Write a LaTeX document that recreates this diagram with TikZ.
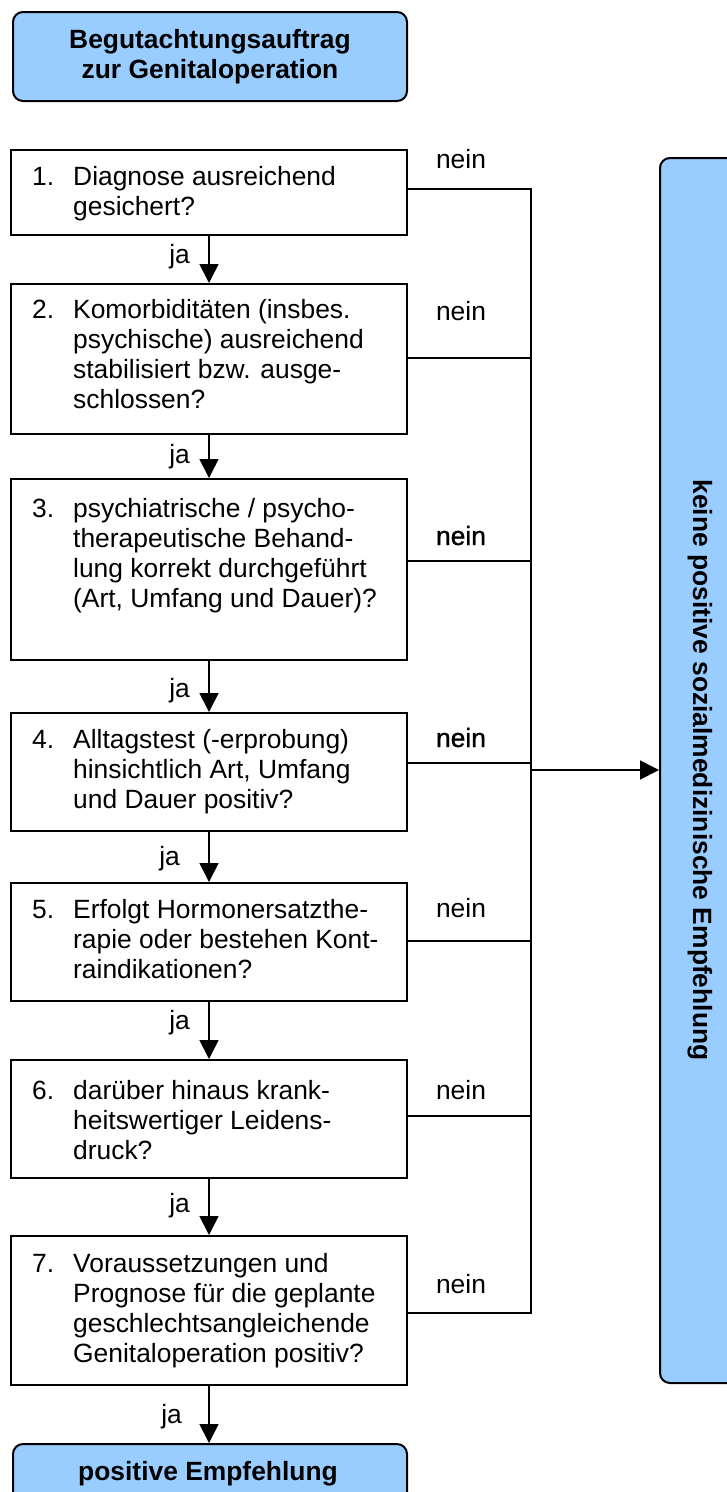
\documentclass[tikz,border=0pt]{standalone}
\usepackage{fontspec}
\setmainfont{Liberation Sans}
\newfontfamily\neinheavy[FakeBold=1]{Liberation Sans}
\usetikzlibrary{arrows.meta}
\definecolor{boxblue}{HTML}{99CCFF}
\newcommand\qitem[2]{\begin{tabular}[t]{@{}p{41pt}@{}l@{}}#1 & #2\end{tabular}}
\tikzset{
  qbox/.style={draw, line width=2pt, minimum width=396pt, inner sep=0pt, anchor=north west},
  bluebox/.style={draw, fill=boxblue, line width=2pt, rounded corners=10pt, inner sep=0pt, anchor=north west},
  conn/.style={line width=1.7pt},
  arr/.style={line width=1.7pt, -{Triangle[width=19pt,length=19pt]}},
  qtext/.style={anchor=base west, inner sep=0pt},
  neinlbl/.style={anchor=base, inner sep=0pt},
  jalbl/.style={anchor=base east, inner sep=0pt},
}
\begin{document}
\begin{tikzpicture}[x=1pt,y=-1pt,font=\fontsize{26.4}{30.2}\selectfont]
\useasboundingbox[fill=white] (0,0) rectangle (726,1492);

% blue boxes
\node[bluebox, minimum width=394pt, minimum height=89pt, align=center, font=\fontsize{26.4}{30.2}\selectfont\bfseries] (top) at (12,11) {Begutachtungsauftrag\\zur Genitaloperation};
\node[bluebox, minimum width=394pt, minimum height=90pt] (pos) at (12,1443) {};
\node[anchor=base, inner sep=0pt, font=\fontsize{26.4}{30.2}\selectfont\bfseries] (posl) at (208,1480) {positive Empfehlung};
\node[bluebox, minimum width=110pt, minimum height=1225pt] (nk) at (659,157) {};
\node[rotate=-90, inner sep=0pt, font=\fontsize{26.4}{30.2}\selectfont\bfseries] (nkl) at (700,770) {keine positive sozialmedizinische Empfehlung};

% question boxes
\node[qbox, minimum height=85pt]  (b1) at (10,149) {};
\node[qbox, minimum height=150pt] (b2) at (10,283) {};
\node[qbox, minimum height=181pt] (b3) at (10,478) {};
\node[qbox, minimum height=118pt] (b4) at (10,712) {};
\node[qbox, minimum height=118pt] (b5) at (10,882) {};
\node[qbox, minimum height=118pt] (b6) at (10,1059) {};
\node[qbox, minimum height=149pt] (b7) at (10,1235) {};

\node[qtext] (t1) at (32,185)  {\qitem{1.}{Diagnose ausreichend\\ & gesichert?}};
\node[qtext] (t2) at (32,318)  {\qitem{2.}{Komorbiditäten (insbes.\\ & psychische) ausreichend\\ & stabilisiert bzw. ausge-\\ & schlossen?}};
\node[qtext] (t3) at (32,517)  {\qitem{3.}{psychiatrische / psycho-\\ & therapeutische Behand-\\ & lung korrekt durchgeführt\\ & (Art, Umfang und Dauer)?}};
\node[qtext] (t4) at (32,748)  {\qitem{4.}{Alltagstest (-erprobung)\\ & hinsichtlich Art, Umfang\\ & und Dauer positiv?}};
\node[qtext] (t5) at (32,918)  {\qitem{5.}{Erfolgt Hormonersatzthe-\\ & rapie oder bestehen Kont-\\ & raindikationen?}};
\node[qtext] (t6) at (32,1099) {\qitem{6.}{darüber hinaus krank-\\ & heitswertiger Leidens-\\ & druck?}};
\node[qtext] (t7) at (32,1272) {\qitem{7.}{Voraussetzungen und\\ & Prognose für die geplante\\ & geschlechtsangleichende\\ & Genitaloperation positiv?}};

% ja arrows
\draw[arr] (b1.south) -- (b2.north);
\draw[arr] (b2.south) -- (b3.north);
\draw[arr] (b3.south) -- (b4.north);
\draw[arr] (b4.south) -- (b5.north);
\draw[arr] (b5.south) -- (b6.north);
\draw[arr] (b6.south) -- (b7.north);
\draw[arr] (b7.south) -- (b7.south |- pos.north);

\node[jalbl] (ja1) at (190,263)  {ja};
\node[jalbl] (ja2) at (190,463)  {ja};
\node[jalbl] (ja3) at (190,697)  {ja};
\node[jalbl] (ja4) at (180,865)  {ja};
\node[jalbl] (ja5) at (190,1029) {ja};
\node[jalbl] (ja6) at (190,1212) {ja};
\node[jalbl] (ja7) at (182,1423) {ja};

% nein connectors
\coordinate (n1) at (531,189);
\coordinate (n2) at (531,358);
\coordinate (n3) at (531,561);
\coordinate (n4) at (531,763);
\coordinate (n5) at (531,941);
\coordinate (n6) at (531,1116);
\coordinate (n7) at (531,1313);
\coordinate (nm) at (531,770);

\draw[conn] (b1.east |- n1) -- (n1);
\draw[conn] (b2.east |- n2) -- (n2);
\draw[conn] (b3.east |- n3) -- (n3);
\draw[conn] (b4.east |- n4) -- (n4);
\draw[conn] (b5.east |- n5) -- (n5);
\draw[conn] (b6.east |- n6) -- (n6);
\draw[conn] (b7.east |- n7) -- (n7);
\draw[conn, line cap=rect] (n1) -- (n7);
\draw[arr] (nm) -- (nk.west |- nm);

\node[neinlbl] (nl1) at (461,168)  {nein};
\node[neinlbl] (nl2) at (461,320)  {nein};
\node[neinlbl, font=\fontsize{26.4}{30.2}\neinheavy] (nl3) at (461,545)  {nein};
\node[neinlbl, font=\fontsize{26.4}{30.2}\neinheavy] (nl4) at (461,747)  {nein};
\node[neinlbl] (nl5) at (461,917)  {nein};
\node[neinlbl] (nl6) at (461,1099) {nein};
\node[neinlbl] (nl7) at (461,1293) {nein};
\end{tikzpicture}
\end{document}
